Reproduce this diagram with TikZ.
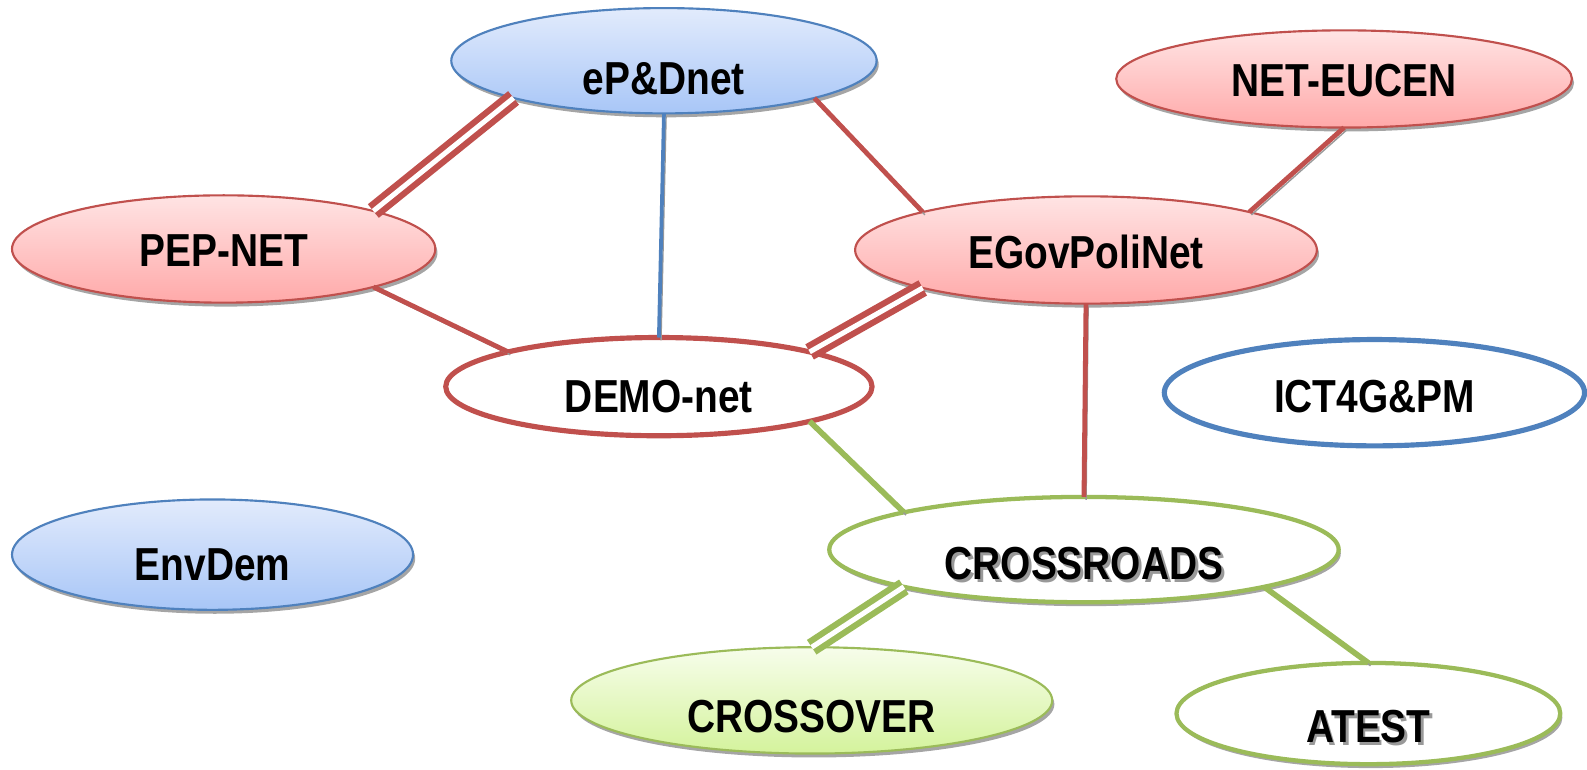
\documentclass[tikz,border=0pt]{standalone}
\usepackage{fontspec}
\newfontfamily\netfont{Liberation Sans}[FakeStretch=0.84]
\usetikzlibrary{shapes.geometric,shadows}

\definecolor{netred}{HTML}{C0504D}
\definecolor{netblue}{HTML}{4F81BD}
\definecolor{netgreen}{HTML}{9BBB59}
\definecolor{redtop}{HTML}{FFE4E4}
\definecolor{redbot}{HTML}{FFA9A9}
\definecolor{bluetop}{HTML}{E2EBFC}
\definecolor{bluebot}{HTML}{A8C6F7}
\definecolor{greentop}{HTML}{F7FDEB}
\definecolor{greenbot}{HTML}{D4F39C}

\newcommand{\shadowtxt}[1]{\makebox[0pt][l]{\hspace{0.8pt}\raisebox{-0.9pt}{\textcolor{black!40}{#1}}}#1}

\tikzset{
	net/.style={ellipse, inner sep=0pt, outer sep=0pt, text depth=0pt,
		font=\netfont\bfseries\fontsize{13}{15}\selectfont},
	netshadow/.style={drop shadow={shadow xshift=0.6pt, shadow yshift=-1.1pt, opacity=0.5, fill=black!70}},
	rednet/.style={net, netshadow, draw=netred, line width=0.6pt, top color=redtop, bottom color=redbot},
	bluenet/.style={net, netshadow, draw=netblue, line width=0.6pt, top color=bluetop, bottom color=bluebot},
	greennet/.style={net, netshadow, draw=netgreen, line width=0.6pt, top color=greentop, bottom color=greenbot},
	ringnet/.style={net, fill=white, line width=1.45pt},
	link/.style={line width=1.35pt, preaction={draw=black!40, transform canvas={xshift=0.6pt, yshift=-0.8pt}}},
	redlink/.style={link, draw=netred},
	bluelink/.style={link, draw=netblue, line width=1.05pt},
	greenlink/.style={link, draw=netgreen, line width=1.6pt},
	doublelink/.style={link, line width=1.75pt, double=white, double distance=1.4pt},
}

\begin{document}
\begin{tikzpicture}[x=0.01cm, y=-0.01cm]
			%%%%% START %%%%%
			\useasboundingbox (0, 0) rectangle (1568, 760);
			
			% the networks
			\node[bluenet, minimum width=4.20cm, minimum height=1.04cm, text height=18.9pt] (epd) at (656, 60) {eP\&Dnet};
			\node[rednet, minimum width=4.50cm, minimum height=0.96cm, text height=9.6pt] (eucen) at (1328, 78) {NET-EUCEN};
			\node[rednet, minimum width=4.18cm, minimum height=1.06cm, text height=9.6pt] (pep) at (221, 246) {PEP-NET};
			\node[rednet, minimum width=4.56cm, minimum height=1.06cm, text height=10.4pt] (egov) at (1073, 247) {EGovPoliNet};
			\node[ringnet, draw=netred, minimum width=4.21cm, minimum height=0.97cm, text height=14.4pt] (demo) at (651, 382) {DEMO-net};
			\node[ringnet, draw=netblue, minimum width=4.15cm, minimum height=1.05cm, text height=11pt] (ict) at (1358, 388) {ICT4G\&PM};
			\node[bluenet, minimum width=3.96cm, minimum height=1.09cm, text height=14.4pt] (env) at (210, 548) {EnvDem};
			\node[ringnet, netshadow, draw=netgreen, line width=1.2pt, minimum width=5.03cm, minimum height=1.04cm, text height=16.7pt] (cross) at (1071, 543) {\shadowtxt{CROSSROADS}};
			\node[greennet, minimum width=4.75cm, minimum height=1.05cm, text height=17.8pt] (over) at (802, 692) {CROSSOVER};
			\node[ringnet, netshadow, draw=netgreen, line width=1.2pt, minimum width=3.79cm, minimum height=1.00cm, text height=16.1pt] (atest) at (1352, 705) {\shadowtxt{ATEST}};
			
			% the links
			\draw[doublelink, draw=netred] (pep.north east) -- (epd.south west);
			\draw[bluelink] (epd.south) -- (demo.north);
			\draw[redlink] (epd.south east) -- (egov.north west);
			\draw[redlink] (eucen.south) -- (egov.north east);
			\draw[redlink] (pep.south east) -- (demo.north west);
			\draw[doublelink, draw=netred] (demo.north east) -- (egov.south west);
			\draw[redlink] (egov.south) -- (cross.north);
			\draw[greenlink] (demo.south east) -- (cross.north west);
			\draw[doublelink, draw=netgreen] (cross.south west) -- (over.north);
			\draw[greenlink] (cross.south east) -- (atest.north);
			
			%%%%% END %%%%%
\end{tikzpicture}
\end{document}
